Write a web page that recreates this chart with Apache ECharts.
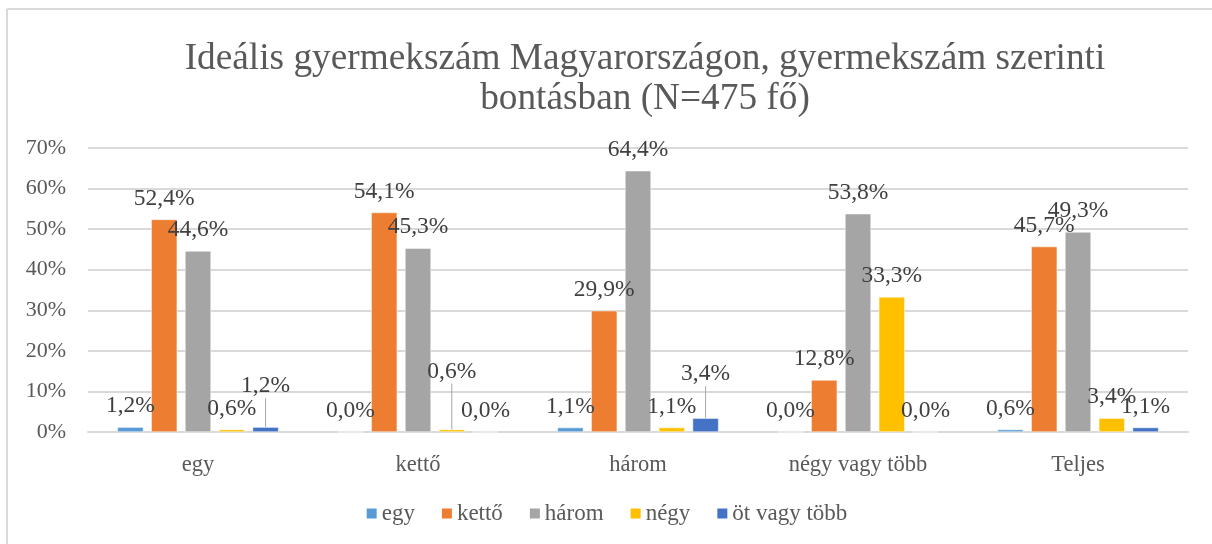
<!DOCTYPE html>
<html>
<head>
<meta charset="utf-8">
<script src="https://cdn.jsdelivr.net/npm/echarts@6/dist/echarts.min.js"></script>
<style>html,body{margin:0;padding:0;background:#fff}#c{width:1212px;height:544px}</style>
</head>
<body>
<div id="c"></div>
<script>
const categories = ['egy', 'kettő', 'három', 'négy vagy több', 'Teljes'];
const seriesNames = ['egy', 'kettő', 'három', 'négy', 'öt vagy több'];
const egy = [1.2, 0.0, 1.1, 0.0, 0.6];
const ketto = [52.4, 54.1, 29.9, 12.8, 45.7];
const harom = [44.6, 45.3, 64.4, 53.8, 49.3];
const negy = [0.6, 0.6, 1.1, 33.3, 3.4];
const ot = [1.2, 0.0, 3.4, 0.0, 1.1];
const yTicks = [0, 10, 20, 30, 40, 50, 60, 70];
const colors = ['#5b9bd5', '#ed7d31', '#a5a5a5', '#ffc000', '#4472c4'];
// manually moved labels: [seriesIndex, categoryIndex, dy]
const movedLabels = [[4, 0, -20], [3, 1, -37], [4, 2, -23]];

const FONT = '"Liberation Serif", "Times New Roman", serif';
const values = [egy, ketto, harom, negy, ot];

const series = values.map((vals, si) => ({
  name: seriesNames[si],
  type: 'bar',
  data: vals.map((v, i) => {
    const moved = movedLabels.some(x => x[0] === si && x[1] === i);
    return moved ? { value: v, labelLine: { show: true } } : v;
  }),
  barWidth: 26,
  barGap: '30%',
  itemStyle: { color: colors[si], borderColor: '#ffffff', borderWidth: 0.5 },
  label: {
    show: true,
    position: 'top',
    distance: 9,
    color: '#404040',
    fontFamily: FONT,
    fontSize: 23.5,
    formatter: p => p.value.toFixed(1).replace('.', ',') + '%'
  },
  labelLine: { show: false, lineStyle: { color: '#a6a6a6', width: 1 } },
  labelLayout: function (p) {
    const m = movedLabels.find(x => x[0] === si && x[1] === p.dataIndex);
    return m ? { dy: m[2] } : {};
  }
}));

const chart = echarts.init(document.getElementById('c'), null, { renderer: 'canvas' });
chart.setOption({
  animation: false,
  backgroundColor: '#ffffff',
  color: colors,
  title: {
    text: 'Ideális gyermekszám Magyarországon, gyermekszám szerinti\nbontásban (N=475 fő)',
    left: 640,
    textAlign: 'center',
    top: 34,
    textStyle: { fontFamily: FONT, fontSize: 37.3, fontWeight: 'normal', color: '#595959', lineHeight: 40 }
  },
  grid: { left: 88, right: 24, top: 148, bottom: 112 },
  legend: {
    bottom: 14,
    left: 'center',
    icon: 'rect',
    itemWidth: 12,
    itemHeight: 12,
    itemGap: 25,
    textStyle: { fontFamily: FONT, fontSize: 23, color: '#595959', padding: [0, 0, 0, -1] },
    data: seriesNames
  },
  xAxis: {
    type: 'category',
    data: categories,
    axisLine: { show: true, lineStyle: { color: '#d9d9d9', width: 2 } },
    axisTick: { show: false },
    axisLabel: { fontFamily: FONT, fontSize: 22.5, color: '#595959', margin: 22 }
  },
  yAxis: {
    type: 'value',
    min: 0,
    max: 70,
    interval: 10,
    axisLine: { show: false },
    axisTick: { show: false },
    splitLine: { lineStyle: { color: '#d9d9d9', width: 2 } },
    axisLabel: {
      fontFamily: FONT, fontSize: 22, color: '#595959', margin: 22,
      formatter: v => yTicks.includes(v) ? v + '%' : ''
    }
  },
  graphic: [
    { type: 'line', shape: { x1: 7, y1: 9, x2: 7, y2: 544 }, style: { stroke: '#d9d9d9', lineWidth: 2 } },
    { type: 'line', shape: { x1: 7, y1: 9, x2: 1212, y2: 9 }, style: { stroke: '#d9d9d9', lineWidth: 2 } }
  ],
  series: series
});
</script>
</body>
</html>
